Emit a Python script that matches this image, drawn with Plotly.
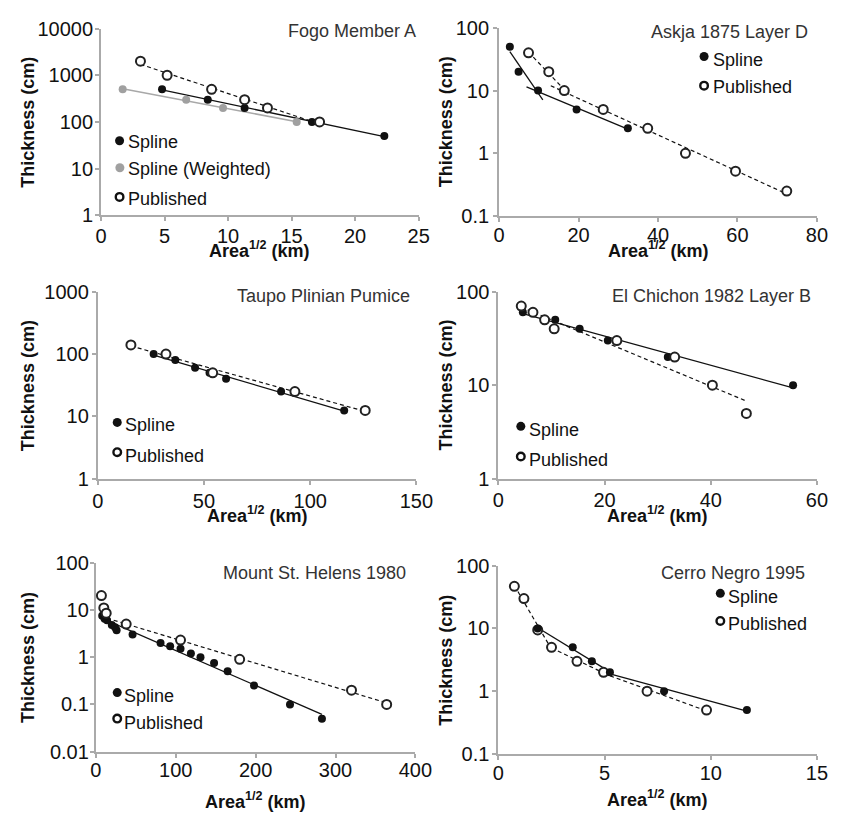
import numpy as np
import plotly.graph_objects as go

W, H = 858, 824
FONT = "Liberation Sans, Arial, Helvetica, sans-serif"

# ---------------- data: Area^1/2 (km) vs thickness (cm) ----------------
# Fogo Member A
fogo_spline_x = [4.8, 8.4, 11.3, 16.6, 22.3]
fogo_spline_y = [500, 300, 200, 100, 50]
fogo_weighted_x = [1.7, 6.7, 9.6, 15.4]
fogo_weighted_y = [500, 300, 200, 100]
fogo_pub_x = [3.1, 5.2, 8.7, 11.3, 13.1, 17.2]
fogo_pub_y = [2000, 1000, 500, 300, 200, 100]
fogo_x_ticks = [0, 5, 10, 15, 20, 25]
fogo_y_ticks = [1, 10, 100, 1000, 10000]

# Askja 1875 Layer D
askja_spline_x = [2.7, 4.9, 9.8, 19.5, 32.4]
askja_spline_y = [50, 20, 10, 5, 2.5]
askja_pub_x = [7.4, 12.5, 16.4, 26.2, 37.4, 46.9, 59.5, 72.4]
askja_pub_y = [40, 20, 10, 5, 2.5, 1, 0.52, 0.25]
askja_x_ticks = [0, 20, 40, 60, 80]
askja_y_ticks = [0.1, 1, 10, 100]

# Taupo Plinian Pumice
taupo_spline_x = [26.3, 36.5, 45.8, 52.6, 60.4, 86.3, 116.0]
taupo_spline_y = [100, 80, 60, 50, 40, 25, 12.5]
taupo_pub_x = [15.6, 32.1, 54.1, 92.8, 125.9]
taupo_pub_y = [140, 100, 50, 25, 12.5]
taupo_x_ticks = [0, 50, 100, 150]
taupo_y_ticks = [1, 10, 100, 1000]

# El Chichon 1982 Layer B
chichon_spline_x = [4.6, 10.7, 15.3, 20.6, 31.9, 55.5]
chichon_spline_y = [60, 50, 40, 30, 20, 10]
chichon_pub_x = [4.3, 6.5, 8.7, 10.5, 22.3, 33.2, 40.3, 46.7]
chichon_pub_y = [70, 60, 50, 40, 30, 20, 10, 5]
chichon_x_ticks = [0, 20, 40, 60]
chichon_y_ticks = [1, 10, 100]

# Mount St. Helens 1980
msh_spline_x = [8, 11, 14, 20, 24, 26, 46, 81, 93, 106, 119, 131, 148, 165, 198, 243, 283]
msh_spline_y = [7.5, 6.5, 6, 4.8, 4.3, 3.7, 3, 2, 1.7, 1.5, 1.2, 1.0, 0.75, 0.5, 0.25, 0.1, 0.05]
msh_pub_x = [7, 10, 13, 38, 106, 180, 320, 364]
msh_pub_y = [20, 11, 8.5, 5, 2.3, 0.9, 0.2, 0.1]
msh_x_ticks = [0, 100, 200, 300, 400]
msh_y_ticks = [0.01, 0.1, 1, 10, 100]

# Cerro Negro 1995
cerro_spline_x = [1.85, 3.5, 4.4, 5.25, 7.8, 11.7]
cerro_spline_y = [10, 5, 3, 2, 1, 0.5]
cerro_pub_x = [0.75, 1.2, 1.85, 2.5, 3.7, 4.95, 7.0, 9.8]
cerro_pub_y = [47, 30, 9.5, 5, 3, 2, 1, 0.5]
cerro_x_ticks = [0, 5, 10, 15]
cerro_y_ticks = [0.1, 1, 10, 100]

# exponential-thinning fit segments (x ranges) for each series
fogo_spline_fits = [(4.8, 22.3)]
fogo_weighted_fits = [(1.7, 15.4)]
fogo_pub_fits = [(3.1, 17.2)]
askja_spline_fits = [(2.7, 11.0), (6.9, 32.4)]
askja_pub_fits = [(7.4, 17.5), (13.0, 72.4)]
taupo_spline_fits = [(26.3, 116.0)]
taupo_pub_fits = [(15.6, 125.9)]
chichon_spline_fits = [(4.6, 55.5)]
chichon_pub_fits = [(4.3, 46.7)]
msh_spline_fits = [(10, 283)]
msh_pub_fits = [(14, 364)]
cerro_spline_fits = [(1.85, 5.25), (5.25, 11.7)]
cerro_pub_fits = [(0.75, 2.5), (2.5, 4.95), (4.95, 9.8)]

# ---------------- styles ----------------
STYLES = {
    "Spline": dict(
        line=dict(color="#111111", width=1.3),
        marker=dict(color="#111111", size=8, line=dict(width=0)),
    ),
    "Spline (Weighted)": dict(
        line=dict(color="#a8a8a8", width=1.6),
        marker=dict(color="#a0a0a0", size=8, line=dict(width=0)),
    ),
    "Published": dict(
        line=dict(color="#111111", width=1.2, dash="4px,3px"),
        marker=dict(color="white", size=9, line=dict(color="#222222", width=2)),
    ),
}


def fit_segment(xs, ys, lo, hi):
    """Least-squares fit of log10(thickness) vs Area^1/2 over [lo, hi]."""
    xs = np.asarray(xs, float)
    ys = np.asarray(ys, float)
    m = (xs >= lo - 1e-9) & (xs <= hi + 1e-9)
    k, b = np.polyfit(xs[m], np.log10(ys[m]), 1)
    xx = np.linspace(lo, hi, 20)
    return xx, 10 ** (k * xx + b)


# panel layout: plot box in pixels (left, top, right, bottom)
panels = [
    dict(title="Fogo Member A", box=(97.7, 18, 424, 210), title_pos=(423.3, 21),
         xticks=fogo_x_ticks, yticks=fogo_y_ticks, xstand=-2, ystand=-2,
         series=[("Spline", fogo_spline_x, fogo_spline_y, fogo_spline_fits),
                 ("Spline (Weighted)", fogo_weighted_x, fogo_weighted_y, fogo_weighted_fits),
                 ("Published", fogo_pub_x, fogo_pub_y, fogo_pub_fits)],
         legend=[("Spline", 116.7, 133.3, 134.5),
                 ("Spline (Weighted)", 117.0, 161.0, 162.5),
                 ("Published", 116.7, 191.0, 192.7)],
         legend_text_x=123.5, ytitle_x=22.5, xtitle_y=245),
    dict(title="Askja 1875 Layer D", box=(506.7, 17.3, 833.3, 210.7), title_pos=(825.7, 21.5),
         xticks=askja_x_ticks, yticks=askja_y_ticks, xstand=-4, ystand=0,
         series=[("Spline", askja_spline_x, askja_spline_y, askja_spline_fits),
                 ("Published", askja_pub_x, askja_pub_y, askja_pub_fits)],
         legend=[("Spline", 717.3, 46.7, 50.5),
                 ("Published", 717.3, 76.7, 77.7)],
         legend_text_x=724.5, ytitle_x=452.5, xtitle_y=245),
    dict(title="Taupo Plinian Pumice", box=(94.3, 288.3, 421.7, 480.7), title_pos=(416.7, 293.3),
         xticks=taupo_x_ticks, yticks=taupo_y_ticks, xstand=-1, ystand=-1,
         series=[("Spline", taupo_spline_x, taupo_spline_y, taupo_spline_fits),
                 ("Published", taupo_pub_x, taupo_pub_y, taupo_pub_fits)],
         legend=[("Spline", 114.3, 422.7, 425.7),
                 ("Published", 114.3, 453.3, 457.7)],
         legend_text_x=120.3, ytitle_x=22.5, xtitle_y=517),
    dict(title="El Chichon 1982 Layer B", box=(506, 288.3, 833.3, 480.7), title_pos=(829.3, 293.3),
         xticks=chichon_x_ticks, yticks=chichon_y_ticks, xstand=-2, ystand=-1,
         series=[("Spline", chichon_spline_x, chichon_spline_y, chichon_spline_fits),
                 ("Published", chichon_pub_x, chichon_pub_y, chichon_pub_fits)],
         legend=[("Spline", 529, 426.7, 430.7),
                 ("Published", 529, 457.7, 461)],
         legend_text_x=535.3, ytitle_x=452.5, xtitle_y=517),
    dict(title="Mount St. Helens 1980", box=(92.3, 566.7, 420.7, 761), title_pos=(413.3, 577.5),
         xticks=msh_x_ticks, yticks=msh_y_ticks, xstand=-5, ystand=-3,
         series=[("Spline", msh_spline_x, msh_spline_y, msh_spline_fits),
                 ("Published", msh_pub_x, msh_pub_y, msh_pub_fits)],
         legend=[("Spline", 114.3, 700.3, 704.3),
                 ("Published", 114.3, 727, 731.3)],
         legend_text_x=119.7, ytitle_x=22.5, xtitle_y=811),
    dict(title="Cerro Negro 1995", box=(506, 570, 833.3, 763.3), title_pos=(823.3, 577.5),
         xticks=cerro_x_ticks, yticks=cerro_y_ticks, xstand=-4, ystand=-1,
         series=[("Published", cerro_pub_x, cerro_pub_y, cerro_pub_fits),
                 ("Spline", cerro_spline_x, cerro_spline_y, cerro_spline_fits)],
         legend=[("Spline", 734, 598.3, 602.3),
                 ("Published", 734, 626.7, 630.3)],
         legend_text_x=739.7, ytitle_x=452.0, xtitle_y=809),
]


def fx(px):
    return px / W


def fy(py):
    return 1 - py / H


fig = go.Figure()
annotations = []
shapes = []
axis_font = dict(family=FONT, size=20, color="#111111")

for i, p in enumerate(panels, 1):
    xref = "x" if i == 1 else f"x{i}"
    yref = "y" if i == 1 else f"y{i}"

    # fitted thinning lines first, markers on top
    for name, xs, ys, fits in p["series"]:
        for lo, hi in fits:
            xx, yy = fit_segment(xs, ys, lo, hi)
            fig.add_trace(go.Scatter(x=xx, y=yy, mode="lines", line=STYLES[name]["line"],
                                     xaxis=xref, yaxis=yref, showlegend=False, hoverinfo="skip"))
    for name, xs, ys, fits in p["series"]:
        fig.add_trace(go.Scatter(x=xs, y=ys, mode="markers", name=name,
                                 marker=STYLES[name]["marker"], xaxis=xref, yaxis=yref,
                                 showlegend=False))

    left, top, right, bottom = p["box"]
    xa = "xaxis" if i == 1 else f"xaxis{i}"
    ya = "yaxis" if i == 1 else f"yaxis{i}"
    common = dict(showline=True, linecolor="#aaaaaa", linewidth=2, ticks="outside",
                  ticklen=4, tickwidth=2, tickcolor="#aaaaaa", showgrid=False,
                  zeroline=False, tickfont=axis_font)
    fig.layout[xa] = dict(domain=[fx(left), fx(right)], anchor=yref,
                          range=[0, p["xticks"][-1]], tickvals=p["xticks"],
                          ticktext=[f"{v:g}" for v in p["xticks"]],
                          ticklabelstandoff=p["xstand"], **common)
    fig.layout[ya] = dict(domain=[fy(bottom), fy(top)], anchor=xref, type="log",
                          range=[np.log10(p["yticks"][0]), np.log10(p["yticks"][-1])],
                          tickvals=p["yticks"], ticktext=[f"{v:g}" for v in p["yticks"]],
                          ticklabelstandoff=p["ystand"], **common)

    # panel title
    tx, ty = p["title_pos"]
    annotations.append(dict(text=p["title"], x=fx(tx), y=fy(ty), xref="paper", yref="paper",
                            xanchor="right", yanchor="middle", showarrow=False,
                            font=dict(family=FONT, size=18, color="#333333")))
    # axis titles
    annotations.append(dict(text="<b>Thickness (cm)</b>", x=fx(p["ytitle_x"]),
                            y=fy((top + bottom) / 2), xref="paper", yref="paper",
                            xanchor="center", yanchor="middle", textangle=-90, showarrow=False,
                            font=dict(family=FONT, size=18, color="#111111")))
    annotations.append(dict(text="<b>Area<sup>1/2</sup> (km)</b>", x=fx((left + right) / 2),
                            y=fy(p["xtitle_y"]), xref="paper", yref="paper",
                            xanchor="center", yanchor="middle", showarrow=False,
                            font=dict(family=FONT, size=18, color="#111111")))

    # in-panel key
    for name, mx, my, ty_text in p["legend"]:
        if name == "Published":
            r, fill, lc, lw = 3.8, "white", "#111111", 2.4
        elif name == "Spline":
            r, fill, lc, lw = 4.5, "#111111", "#111111", 0
        else:
            r, fill, lc, lw = 4.5, "#a0a0a0", "#a0a0a0", 0
        shapes.append(dict(type="circle", xref="paper", yref="paper",
                           xsizemode="pixel", ysizemode="pixel",
                           xanchor=fx(mx), yanchor=fy(my),
                           x0=-r, x1=r, y0=-r, y1=r, fillcolor=fill,
                           line=dict(color=lc, width=lw)))
        annotations.append(dict(text=name, x=fx(p["legend_text_x"]), y=fy(ty_text),
                                xref="paper", yref="paper", xanchor="left", yanchor="middle",
                                showarrow=False,
                                font=dict(family=FONT, size=18, color="#111111")))

fig.update_layout(width=W, height=H, margin=dict(l=0, r=0, t=0, b=0),
                  paper_bgcolor="white", plot_bgcolor="white",
                  annotations=annotations, shapes=shapes, showlegend=False)

fig.write_html("out.html")
